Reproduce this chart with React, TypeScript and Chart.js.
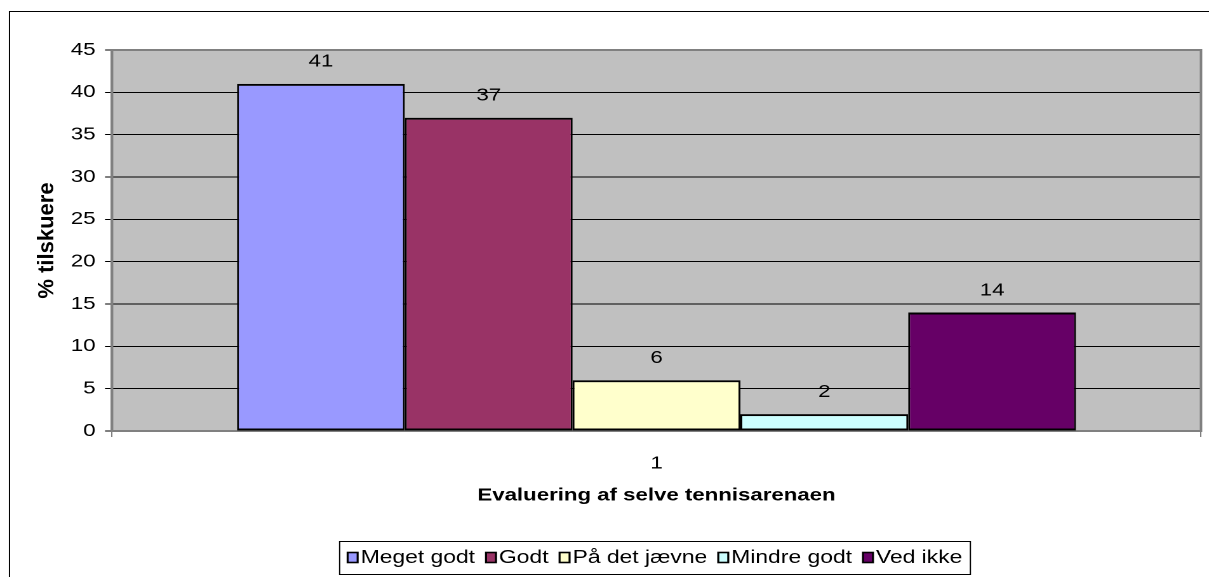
import React, { useEffect, useRef } from 'react';
import { Chart, registerables } from 'chart.js';

Chart.register(...registerables);

// ---------- data ----------
const categories = ['1'];
const seriesNames = ['Meget godt', 'Godt', 'På det jævne', 'Mindre godt', 'Ved ikke'];
const seriesValues = [41, 37, 6, 2, 14];
const seriesColors = ['#9999FF', '#993366', '#FFFFCC', '#CCFFFF', '#660066'];
const yMin = 0;
const yMax = 45;
const yStep = 5;
const xAxisTitle = 'Evaluering af selve tennisarenaen';
const yAxisTitle = '% tilskuere';

// ---------- geometry (the reference is horizontally stretched) ----------
const OUT_W = 1209;
const OUT_H = 577;
const LOG_W = 952;
const SX = OUT_W / LOG_W;
const lx = (px: number) => px / SX;
const FONT = "'Liberation Sans', Arial, Helvetica, sans-serif";

Chart.defaults.font.family = FONT;

const excelPlugin = {
  id: 'excelLook',
  beforeDraw(chart: any) {
    const { ctx, chartArea: a } = chart;
    ctx.save();
    ctx.fillStyle = '#FFFFFF';
    ctx.fillRect(0, 0, chart.width, chart.height);
    ctx.fillStyle = '#C0C0C0';
    ctx.fillRect(a.left, a.top, a.right - a.left, a.bottom - a.top);
    ctx.strokeStyle = '#000000';
    ctx.lineWidth = 1;
    ctx.beginPath();
    ctx.moveTo(lx(9.5), chart.height + 5);
    ctx.lineTo(lx(9.5), 11.5);
    ctx.lineTo(chart.width + 5, 11.5);
    ctx.stroke();
    ctx.restore();
  },
  beforeDatasetsDraw(chart: any) {
    const { ctx, chartArea: a } = chart;
    ctx.save();
    ctx.strokeStyle = '#808080';
    ctx.lineWidth = 2;
    ctx.strokeRect(a.left, a.top, a.right - a.left, a.bottom - a.top);
    ctx.restore();
  },
  afterDatasetsDraw(chart: any) {
    const { ctx } = chart;
    ctx.save();
    ctx.font = `17.5px ${FONT}`;
    ctx.fillStyle = '#000000';
    ctx.textAlign = 'center';
    ctx.textBaseline = 'middle';
    chart.data.datasets.forEach((ds: any, i: number) => {
      const meta = chart.getDatasetMeta(i);
      meta.data.forEach((el: any, j: number) => {
        ctx.fillText(String(ds.data[j]), el.x, el.y - 22);
      });
    });
    ctx.restore();
  },
  afterDraw(chart: any) {
    const { ctx, chartArea: a } = chart;
    // y axis title, drawn without the horizontal stretch
    ctx.save();
    ctx.translate(lx(47.5), (a.top + a.bottom) / 2);
    ctx.scale(1 / SX, 1);
    ctx.rotate(-Math.PI / 2);
    ctx.font = `bold 22px ${FONT}`;
    ctx.fillStyle = '#000000';
    ctx.textAlign = 'center';
    ctx.textBaseline = 'middle';
    ctx.fillText(yAxisTitle, 0, 0);
    ctx.restore();

    // legend
    ctx.save();
    ctx.font = `18px ${FONT}`;
    const boxW = lx(10);
    const boxH = 10;
    const gapBT = lx(3);
    const gapItem = lx(11);
    const padX = lx(8);
    const widths = chart.data.datasets.map((d: any) => ctx.measureText(d.label).width);
    let total = 2 * padX + gapItem * (widths.length - 1);
    widths.forEach((w: number) => (total += boxW + gapBT + w));
    const left = lx(655) - total / 2;
    const top = 541.5;
    const h = 33;
    const cy = 557.5;
    ctx.fillStyle = '#FFFFFF';
    ctx.fillRect(left, top, total, h);
    ctx.strokeStyle = '#000000';
    ctx.lineWidth = 1;
    ctx.strokeRect(left, top, total, h);
    let x = left + padX;
    ctx.textAlign = 'left';
    ctx.textBaseline = 'middle';
    chart.data.datasets.forEach((d: any, i: number) => {
      ctx.fillStyle = d.backgroundColor;
      ctx.fillRect(x, cy - boxH / 2, boxW, boxH);
      ctx.strokeStyle = '#000000';
      ctx.lineWidth = 1.6;
      ctx.strokeRect(x, cy - boxH / 2, boxW, boxH);
      x += boxW + gapBT;
      ctx.fillStyle = '#000000';
      ctx.fillText(d.label, x, cy + 0.5);
      x += widths[i] + gapItem;
    });
    ctx.restore();
  },
};

export default function App() {
  const ref = useRef<HTMLCanvasElement>(null);

  useEffect(() => {
    if (!ref.current) return;
    const datasets = seriesNames.map((name, i) => ({
      label: name,
      data: [seriesValues[i]],
      backgroundColor: seriesColors[i],
      borderColor: '#000000',
      borderWidth: { top: 2, bottom: 2, left: 1.5, right: 1.5 },
      borderSkipped: false as const,
      categoryPercentage: 0.7704,
      barPercentage: 1,
    }));

    const chart = new Chart(ref.current, {
      type: 'bar',
      data: { labels: categories, datasets },
      options: {
        responsive: false,
        animation: false,
        devicePixelRatio: 2,
        layout: { padding: { left: 0, right: LOG_W - lx(1201), top: 50, bottom: 71 } },
        plugins: {
          legend: { display: false },
          tooltip: { enabled: false },
          title: { display: false },
        },
        scales: {
          x: {
            type: 'category',
            offset: true,
            grid: {
              offset: true,
              drawOnChartArea: false,
              drawTicks: true,
              tickLength: 6,
              color: '#808080',
              lineWidth: 1,
            },
            border: { display: true, color: '#808080', width: 2 },
            ticks: { color: '#000000', font: { size: 17.5 }, padding: 16 },
            title: {
              display: true,
              text: xAxisTitle,
              color: '#000000',
              font: { size: 17.5, weight: 'bold' },
              padding: { top: 0, bottom: 0 },
            },
            afterFit(scale: any) {
              scale.height = 75;
            },
          },
          y: {
            min: yMin,
            max: yMax,
            ticks: { stepSize: yStep, color: '#000000', font: { size: 17.5 }, padding: 7.5 },
            grid: { color: '#000000', lineWidth: 1, tickLength: 5.5, tickColor: '#000000' },
            border: { color: '#808080', width: 2 },
            title: { display: false, text: yAxisTitle },
            afterFit(scale: any) {
              scale.width = lx(112);
            },
          },
        },
      } as any,
      plugins: [excelPlugin],
    });
    return () => chart.destroy();
  }, []);

  return (
    <div
      style={{
        position: 'absolute',
        left: 0,
        top: 0,
        width: OUT_W,
        height: OUT_H,
        overflow: 'hidden',
        background: '#FFFFFF',
      }}
    >
      <canvas
        ref={ref}
        width={LOG_W}
        height={OUT_H}
        style={{ width: `${OUT_W}px`, height: `${OUT_H}px`, display: 'block' }}
      />
    </div>
  );
}
